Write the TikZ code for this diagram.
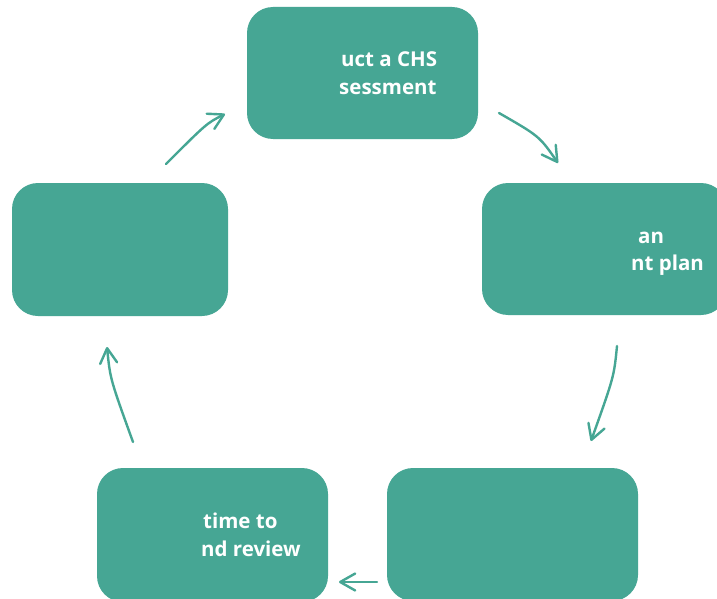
\documentclass[tikz,border=0pt]{standalone}
\usepackage{fontspec}
\setmainfont{Open Sans}
\usetikzlibrary{arrows.meta}
\definecolor{teal1}{RGB}{70,166,148}
\tikzset{
  box/.style={fill=teal1, draw=none, rounded corners=26pt, inner sep=0pt},
  lbl/.style={anchor=base west, inner sep=0pt, text=white, font=\fontsize{20.5}{28}\selectfont\bfseries},
  conn/.style={draw=teal1, line width=2.4pt, line cap=round,
    -{Straight Barb[length=15pt,width=17pt,line width=2.4pt,round]}}
}
\begin{document}
\begin{tikzpicture}[x=1pt,y=-1pt]
\clip (0,0) rectangle (717,599);
\fill[white] (0,0) rectangle (717,599);
% boxes
\node[box, minimum width=231pt, minimum height=132pt] (top) at (362.5,73) {};
\node[box, minimum width=245pt, minimum height=132pt] (right) at (604.5,249) {};
\node[box, minimum width=251pt, minimum height=133pt] (bright) at (512.5,534.5) {};
\node[box, minimum width=231pt, minimum height=134pt] (bleft) at (212.5,535) {};
\node[box, minimum width=216pt, minimum height=133pt] (left) at (120,249.5) {};
% texts
\node[lbl] (t1) at (341,67) {uct a CHS};
\node[lbl] (t2) at (339,95) {sessment};
\node[lbl] (r1) at (638,243) {an};
\node[lbl] (r2) at (631,270) {nt plan};
\node[lbl] (b1) at (203,528) {time to};
\node[lbl] (b2) at (201,556) {nd review};
% connector ends
\coordinate (a1s) at (166,164);
\coordinate (a1c) at (206.8,123.2);
\coordinate (a1e) at (225,114);
\coordinate (a2s) at (499,113);
\coordinate (a2c) at (539.4,136.2);
\coordinate (a2e) at (558,163);
\coordinate (a3s) at (617,346);
\coordinate (a3c) at (614,376.6);
\coordinate (a3e) at (591,441);
\coordinate (a4s) at (377,582);
\coordinate (a4e) at (339,582);
\coordinate (a5s) at (133,442);
\coordinate (a5c) at (110.2,379);
\coordinate (a5e) at (107,347);
% connectors
\draw[conn] (a1s) .. controls (a1c) .. (a1e);
\draw[conn] (a2s) .. controls (a2c) .. (a2e);
\draw[conn] (a3s) .. controls (a3c) .. (a3e);
\draw[conn] (a4s) -- (a4e);
\draw[conn] (a5s) .. controls (a5c) .. (a5e);
\end{tikzpicture}
\end{document}
